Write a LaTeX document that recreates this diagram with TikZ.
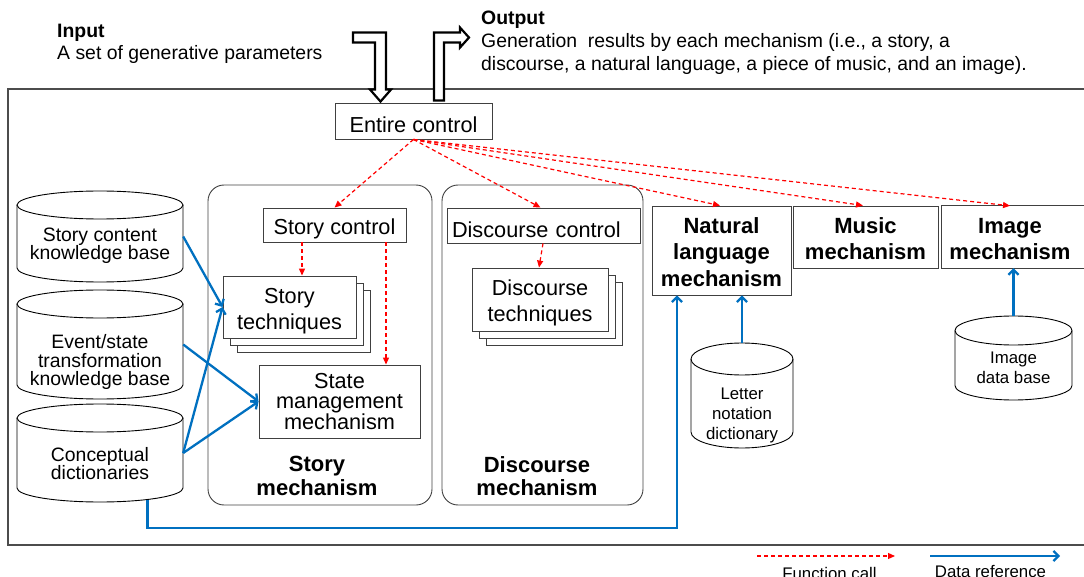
\documentclass[tikz,border=0pt]{standalone}
\usepackage{fontspec}
\setmainfont{Liberation Sans}
\usetikzlibrary{arrows.meta,calc}
\definecolor{callred}{RGB}{255,0,0}
\definecolor{refblue}{RGB}{0,112,192}

% cylinder outline: centre x, top y, bottom y, x radius, y radius
\newcommand\drumshape[5]{%
  \draw[drumline] ({#1-#4},{#2+#5}) -- ({#1-#4},{#3-#5})
     arc[start angle=180,end angle=0,x radius=#4,y radius=#5]
     -- ({#1+#4},{#2+#5});
  \draw[drumline] (#1,{#2+#5}) ellipse[x radius=#4,y radius=#5];
}
% invisible struts that lower a label inside its box
\newcommand\lowerby[1]{\rule{0pt}{#1}}

\begin{document}
\begin{tikzpicture}[x=1pt,y=-1pt,
  box/.style={draw=black!75, line width=0.9pt, inner sep=0pt, align=center, fill=white},
  mechframe/.style={draw=black!75, line width=0.9pt, rounded corners=16pt},
  body/.style={inner sep=0pt, draw=none},
  drumline/.style={draw=black, line width=0.9pt},
  lab/.style={font=\fontsize{21.7}{26}\selectfont},
  smmfont/.style={font=\fontsize{21.7}{20.7}\selectfont, align=center},
  kbfont/.style={font=\fontsize{19.4}{18.4}\selectfont, align=center, inner sep=0pt},
  mechbold/.style={font=\bfseries\fontsize{22}{26.5}\selectfont},
  mechtitle/.style={font=\bfseries\fontsize{22}{23.5}\selectfont, align=center, inner sep=0pt},
  smallfont/.style={font=\fontsize{16.8}{20.3}\selectfont, align=center, inner sep=0pt},
  note/.style={font=\fontsize{19.4}{22}\selectfont, anchor=base west, inner sep=0pt},
  notehead/.style={font=\bfseries\fontsize{19.4}{22}\selectfont, anchor=base west, inner sep=0pt},
  call/.style={draw=callred, line width=1.2pt, dash pattern=on 4pt off 3pt,
               -{Triangle[length=7pt,width=6pt]}},
  dataref/.style={draw=refblue, line width=2.3pt,
               -{Straight Barb[length=5pt,width=10pt]}},
  blockarrow/.style={draw=black, line width=2.2pt, line join=miter, fill=white},
]
\useasboundingbox (0,0) rectangle (1084,577);

% outer frame of the system
\draw[draw=black!70, line width=1.2pt] (1090,89) -- (8,89) -- (8,545) -- (1090,545);

% input / output notes
\node[notehead] (inhead) at (57,38) {Input};
\node[note] (intext) at (57,60) {A set of generative parameters};
\node[notehead] (outhead) at (481,25) {Output};
\node[note] (outtext1) at (481,48) {Generation\ \ results by each mechanism (i.e., a story, a};
\node[note] (outtext2) at (481,71) {discourse, a natural language, a piece of music, and an image).};

% entire control
\node[box, lab, minimum width=157pt, minimum height=36pt] (ec) at (413.5,121) {\lowerby{24pt}Entire control};

% hollow block arrows in and out of the entire control
\begin{scope}[shift={(ec.north)}]
  \draw[blockarrow] (-60.5,-70) -- (-27.5,-70) -- (-27.5,-13) -- (-22.5,-13)
     -- (-33,-1) -- (-43.5,-13) -- (-38.5,-13) -- (-38.5,-60) -- (-60.5,-60) -- cycle;
  \draw[blockarrow] (20.5,-2) -- (20.5,-70) -- (46.5,-70) -- (46.5,-75)
     -- (55.5,-65) -- (46.5,-55) -- (46.5,-60) -- (30.5,-60) -- (30.5,-2) -- cycle;
\end{scope}

% story mechanism
\node[mechframe, minimum width=224pt, minimum height=320pt] (sm) at (320,345) {};
\node[mechtitle] (smt) at (317,476) {Story\\mechanism};
\node[box, lab, minimum width=143pt, minimum height=34pt] (sc) at (334.5,225) {\lowerby{24pt}Story control};
\node[box, minimum width=133pt, minimum height=62pt] (st3) at (303.5,321) {};
\node[box, minimum width=133pt, minimum height=62pt] (st2) at (296.5,314) {};
\node[box, lab, minimum width=133pt, minimum height=62pt] (st) at (289.5,307) {\lowerby{24pt}Story\\techniques};
\node[box, smmfont, minimum width=161pt, minimum height=73pt] (smm) at (339.5,401.5) {State\\management\\mechanism};

% discourse mechanism
\node[mechframe, minimum width=201pt, minimum height=320pt] (dm) at (542.5,345) {};
\node[mechtitle] (dmt) at (537,476) {Discourse\\mechanism};
\node[box, lab, minimum width=193pt, minimum height=35pt, text width=183pt, align=left] (dc) at (543.5,225.5) {\lowerby{24pt}Discourse control};
\node[box, minimum width=136pt, minimum height=63pt] (dt3) at (554,313.5) {};
\node[box, minimum width=136pt, minimum height=63pt] (dt2) at (547,306.5) {};
\node[box, lab, minimum width=136pt, minimum height=63pt] (dt) at (540,299.5) {\lowerby{22pt}Discourse\\techniques};

% output mechanisms
\node[box, mechbold, minimum width=139pt, minimum height=89pt] (nl) at (721.5,250.5) {\lowerby{19pt}Natural\\language\\mechanism};
\node[box, mechbold, minimum width=145pt, minimum height=62pt] (mu) at (865.5,237) {\lowerby{19.5pt}Music\\mechanism};
\node[body, mechbold, align=center, minimum width=136pt, minimum height=62pt] (im) at (1010,237) {\lowerby{19.5pt}Image\\mechanism};
\draw[draw=black!75, line width=0.9pt] ([xshift=20pt]im.north east) -- (im.north west)
   -- (im.south west) -- ([xshift=20pt]im.south east);

% knowledge bases and dictionaries
\drumshape{100}{191}{282}{83}{14}
\drumshape{100}{290}{399}{83}{14}
\drumshape{100}{404}{502}{83}{14}
\drumshape{742}{343}{448}{51}{16}
\drumshape{1013.5}{316}{400}{58.5}{14.5}
\node[body, minimum width=166pt, minimum height=91pt] (kb1) at (100,236.5) {};
\node[body, minimum width=166pt, minimum height=109pt] (kb2) at (100,344.5) {};
\node[body, minimum width=166pt, minimum height=98pt] (kb3) at (100,453) {};
\node[body, minimum width=102pt, minimum height=105pt] (ln) at (742,395.5) {};
\node[body, minimum width=117pt, minimum height=84pt] (idb) at (1013.5,358) {};
\node[kbfont] (kb1t) at (100,246) {Story content\\knowledge base};
\node[kbfont] (kb2t) at (100,362) {Event/state\\transformation\\knowledge base};
\node[kbfont] (kb3t) at (100,463.5) {Conceptual\\dictionaries};
\node[smallfont] (lnt) at (742,415.5) {Letter\\notation\\dictionary};
\node[smallfont] (idbt) at (1013.5,368) {Image\\data base};

% function calls
\draw[call] (ec.south) -- (sc.north);
\draw[call] (ec.south) -- ([xshift=-3pt]dc.north);
\draw[call] (ec.south) -- ([xshift=-1.5pt]nl.north);
\draw[call] (ec.south) -- ([xshift=-2.5pt]mu.north);
\draw[call] (ec.south) -- (im.north);
\draw[call] ([xshift=-32.5pt]sc.south) -- ([xshift=-32.5pt]sc.south |- st.north);
\draw[call] ([xshift=51.5pt]sc.south) -- ([xshift=51.5pt]sc.south |- smm.north);
\draw[call] ([xshift=-0.5pt]dc.south) -- ([xshift=-1pt]dt.north);

% data references
\draw[dataref] (kb1.east) -- (st.west);
\draw[dataref] (kb2.east) -- (smm.west);
\draw[dataref] (kb3.east) -- (st.west);
\draw[dataref] (kb3.east) -- (smm.west);
\coordinate (kb3b) at (147.5,500);
\draw[dataref] (kb3b) -- ++(0,28) -| ([xshift=-44.5pt]nl.south);
\draw[dataref] (ln.north) -- (ln.north |- nl.south);
\draw[dataref] (idb.north) -- (idb.north |- im.south);

% legend
\coordinate (lc1) at (757,556);
\coordinate (lc2) at (895,556);
\coordinate (ld1) at (930,556);
\coordinate (ld2) at (1060,556);
\draw[call] (lc1) -- (lc2);
\draw[dataref] (ld1) -- (ld2);
\node[smallfont, anchor=base] (lct) at (829.5,579) {Function call};
\node[smallfont, anchor=base] (ldt) at (990.5,577) {Data reference};
\end{tikzpicture}
\end{document}
